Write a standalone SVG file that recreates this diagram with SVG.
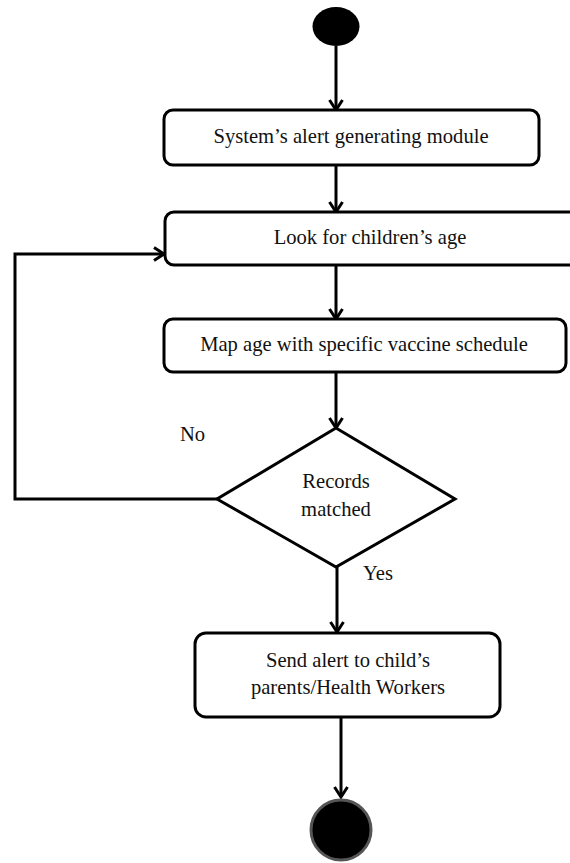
<svg xmlns="http://www.w3.org/2000/svg" width="570" height="863" viewBox="0 0 570 863">
<style>
.box{fill:#fff;stroke:#000;stroke-width:3}
.t{font-family:"Liberation Serif","Times New Roman",serif;font-size:20.6px;fill:#111;text-anchor:middle}
.l{font-family:"Liberation Serif","Times New Roman",serif;font-size:20.6px;fill:#111}
.c{fill:none;stroke:#000;stroke-width:3}
</style>
<defs>
<marker id="ah" markerWidth="16" markerHeight="16" refX="13" refY="8" orient="auto" markerUnits="userSpaceOnUse">
<path d="M3,1.5 L13,8 L3,14.5" fill="none" stroke="#000" stroke-width="3"/>
</marker>
</defs>
<rect width="570" height="863" fill="#fff"/>
<g id="connectors">
<line class="c" x1="336" y1="46" x2="336" y2="110" marker-end="url(#ah)"/>
<line class="c" x1="336" y1="165" x2="336" y2="212" marker-end="url(#ah)"/>
<line class="c" x1="336" y1="265" x2="336" y2="319" marker-end="url(#ah)"/>
<line class="c" x1="336" y1="372" x2="336" y2="428" marker-end="url(#ah)"/>
<line class="c" x1="337" y1="567" x2="337" y2="632" marker-end="url(#ah)"/>
<line class="c" x1="341" y1="717" x2="341" y2="797" marker-end="url(#ah)"/>
<polyline class="c" points="217,499 15,499 15,254 164,254" marker-end="url(#ah)"/>
<text class="l" x="180" y="441">No</text>
<text class="l" x="363" y="580">Yes</text>
</g>
<g id="start">
<ellipse cx="336" cy="26.5" rx="23.5" ry="19.5" fill="#000"/>
</g>
<g id="alert-module">
<rect class="box" x="164" y="110" width="375" height="55" rx="9"/>
<text class="t" x="351" y="143">System’s alert generating module</text>
</g>
<g id="look-age">
<rect class="box" x="165" y="212" width="420" height="53" rx="9"/>
<text class="t" x="370" y="244">Look for children’s age</text>
</g>
<g id="map-age">
<rect class="box" x="164" y="319" width="402" height="53" rx="9"/>
<text class="t" x="364" y="351">Map age with specific vaccine schedule</text>
</g>
<g id="records-matched">
<polygon class="box" points="336,428 455,499 336,567 217,499"/>
<text class="t" x="336" y="488">Records</text>
<text class="t" x="336" y="516">matched</text>
</g>
<g id="send-alert">
<rect class="box" x="195" y="633" width="305" height="84" rx="11"/>
<text class="t" x="348" y="667">Send alert to child’s</text>
<text class="t" x="348" y="694">parents/Health Workers</text>
</g>
<g id="end">
<circle cx="341" cy="830" r="30" fill="#000" stroke="#555" stroke-width="3"/>
</g>
</svg>
